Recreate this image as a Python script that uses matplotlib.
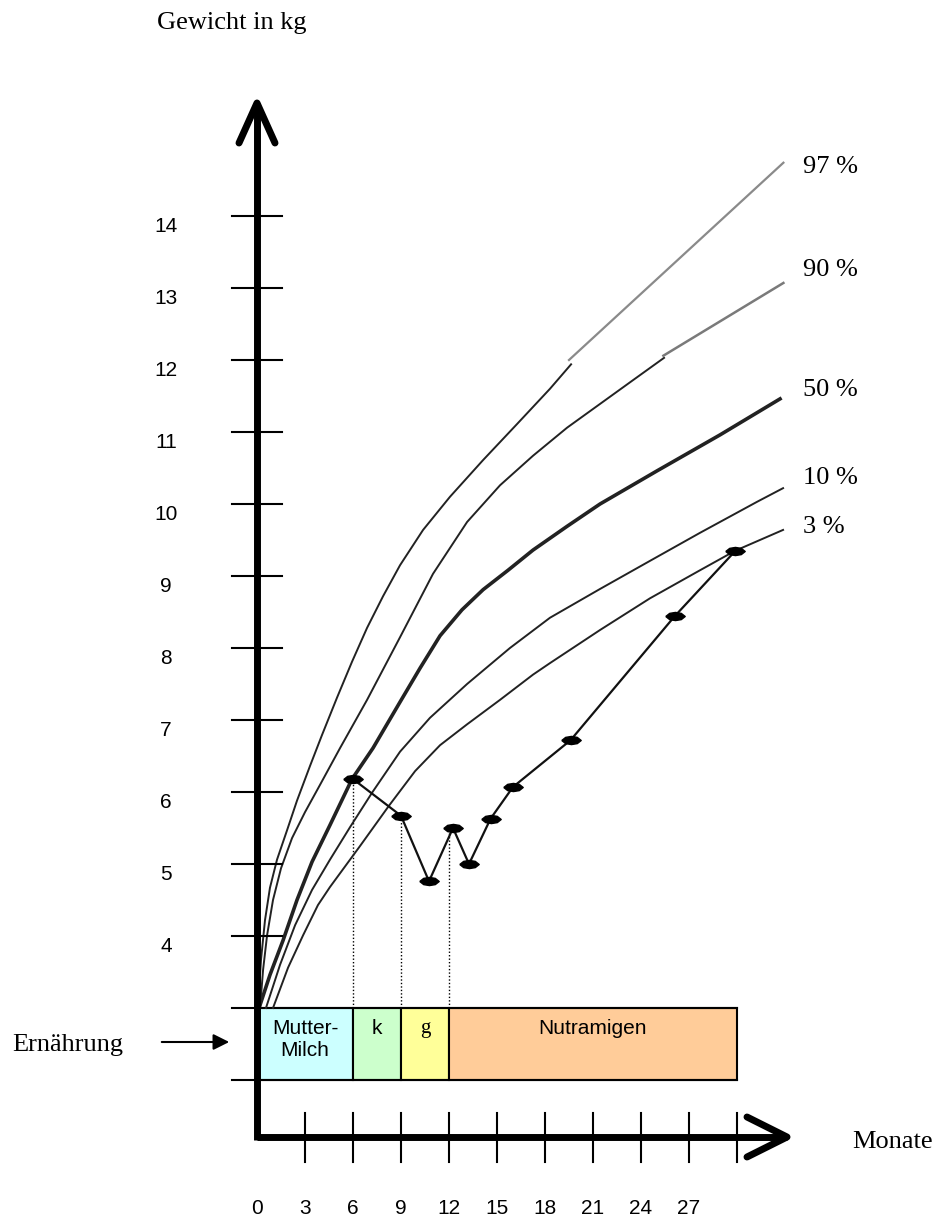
import matplotlib.pyplot as plt
from matplotlib.patches import Rectangle
import numpy as np

p97_m = [0.06, 0.25, 0.5, 0.81, 1.25, 1.88, 2.5, 3.31, 4.06, 5.0, 5.94, 6.88, 7.88, 8.94,
         10.38, 12.06, 14.13, 16.25, 18.31, 19.63]
p97_kg = [3.0, 3.67, 4.22, 4.67, 5.06, 5.47, 5.88, 6.36, 6.79, 7.31, 7.81, 8.28, 8.72, 9.15,
          9.64, 10.10, 10.61, 11.11, 11.60, 11.94]
p90_m = [0.19, 0.38, 0.63, 1.0, 1.5, 2.19, 3.0, 3.94, 5.19, 6.88, 8.94, 11.0, 13.13, 15.19,
         17.25, 19.38, 21.44, 23.5, 25.44]
p90_kg = [3.0, 3.53, 4.01, 4.5, 4.94, 5.36, 5.72, 6.10, 6.61, 7.28, 8.15, 9.03, 9.75, 10.26,
          10.67, 11.06, 11.39, 11.72, 12.03]
p50_m = [0.13, 0.81, 1.63, 2.5, 3.44, 4.56, 5.94, 7.25, 8.94, 10.19, 11.44, 12.81, 14.13, 15.69,
         17.25, 19.38, 21.44, 25.0, 28.94, 32.69]
p50_kg = [3.0, 3.46, 3.94, 4.5, 5.03, 5.54, 6.18, 6.61, 7.25, 7.72, 8.17, 8.53, 8.81, 9.08,
          9.36, 9.69, 10.0, 10.46, 10.96, 11.46]
p10_m = [0.56, 1.44, 2.38, 3.44, 4.56, 5.81, 7.19, 8.94, 10.81, 13.13, 15.81, 18.31, 21.44,
         24.56, 27.69, 31.25, 32.88]
p10_kg = [3.0, 3.6, 4.15, 4.64, 5.06, 5.51, 5.99, 6.56, 7.03, 7.5, 8.0, 8.42, 8.82,
          9.21, 9.6, 10.03, 10.22]
p3_m = [1.0, 1.94, 2.88, 3.81, 4.56, 6.44, 8.25, 9.88, 11.44, 13.13, 15.19, 17.25, 18.31,
        21.44, 24.56, 27.69, 29.88, 32.88]
p3_kg = [3.0, 3.56, 4.01, 4.43, 4.68, 5.25, 5.81, 6.29, 6.65, 6.94, 7.28, 7.63, 7.79,
         8.25, 8.69, 9.08, 9.35, 9.64]

# graue Verlaengerungen von 97 % und 90 %
ext97_m = [19.5, 32.9]
ext97_kg = [12.0, 14.74]
ext90_m = [25.4, 32.9]
ext90_kg = [12.06, 13.07]

# Gewicht des Kindes
weight_m = [6.0, 9.0, 10.75, 12.25, 13.25, 14.6, 16.0, 19.6, 26.1, 29.9]
weight_kg = [6.18, 5.67, 4.76, 5.5, 5.0, 5.63, 6.07, 6.72, 8.44, 9.35]

# gepunktete Hilfslinien
dotted_m = [6, 9, 12]
dotted_top = [6.18, 5.67, 5.45]

# Ernaehrung
feed_labels = ['Mutter-\nMilch', 'k', 'g', 'Nutramigen']
feed_start = [0, 6, 9, 12]
feed_end = [6, 9, 12, 30]
feed_colors = ['#ccffff', '#ccffcc', '#ffff99', '#ffcc99']

pct_labels = ['97 %', '90 %', '50 %', '10 %', '3 %']
pct_label_y = [14.68, 13.25, 11.58, 10.36, 9.68]

y_ticks = list(range(4, 15))
x_ticks = list(range(0, 30, 3))

serif = ['Liberation Serif', 'DejaVu Serif']
sans = ['Liberation Sans', 'DejaVu Sans']

# 1 Monat = 16 px, 1 kg = 72 px
PX_X = 1 / 16
PX_Y = 1 / 72

fig = plt.figure(figsize=(9.36, 12.21), dpi=100)
ax = fig.add_axes([0, 0, 1, 1])
ax.set_xlim(-257 * PX_X, 679 * PX_X)
ax.set_ylim(3 - 213 * PX_Y, 3 + 1008 * PX_Y)
ax.axis('off')

x_axis_y = 3 - 129 * PX_Y
y_top = 3 + 905 * PX_Y
x_end = 530 * PX_X

# Ernaehrungs-Balken
for s, e, c, lab in zip(feed_start, feed_end, feed_colors, feed_labels):
    ax.add_patch(Rectangle((s, 2), e - s, 1, facecolor=c, edgecolor='black', lw=1.5, zorder=2))
    fam = serif if lab == 'g' else sans
    ax.text((s + e) / 2, 3 - 11 * PX_Y, lab, ha='center', va='top', fontsize=15,
            family=fam, linespacing=1.22, zorder=3)
ax.plot([-25 * PX_X, 30], [3, 3], color='black', lw=1.5, zorder=3)
ax.plot([-25 * PX_X, 30], [2, 2], color='black', lw=1.5, zorder=3)

# Perzentilkurven
for m, kg, lw in [(p97_m, p97_kg, 1.4), (p90_m, p90_kg, 1.4), (p50_m, p50_kg, 2.6),
                  (p10_m, p10_kg, 1.4), (p3_m, p3_kg, 1.4)]:
    ax.plot(m, kg, color='#222222', lw=lw, solid_joinstyle='round', zorder=4)
ax.plot(ext97_m, ext97_kg, color='#8a8a8a', lw=1.6, zorder=4)
ax.plot(ext90_m, ext90_kg, color='#7a7a7a', lw=1.8, zorder=4)

for lab, yv in zip(pct_labels, pct_label_y):
    ax.text(546 * PX_X, yv, lab, ha='left', va='center', fontsize=19, family=serif)

# Hilfslinien
for m, top in zip(dotted_m, dotted_top):
    ax.plot([m, m], [3, top], color='black', lw=1.0, ls=(0, (1, 1.5)), zorder=3)

# Gewichtskurve
lens = [(-1, 0), (-0.6, 0.32), (0, 0.42), (0.6, 0.32), (1, 0), (0.6, -0.32), (0, -0.42),
        (-0.6, -0.32), (-1, 0)]
ax.plot(weight_m, weight_kg, color='#111111', lw=1.6, marker=lens, markersize=14,
        markerfacecolor='black', markeredgecolor='black', zorder=5)

# Achsen
ax.plot([0, 0], [x_axis_y - 3 * PX_Y, y_top], color='black', lw=5, solid_capstyle='butt', zorder=6)
ax.plot([-18 * PX_X, 0, 18 * PX_X], [y_top - 40 * PX_Y, y_top, y_top - 40 * PX_Y],
        color='black', lw=5, solid_capstyle='round', solid_joinstyle='round', zorder=6)
ax.plot([0, x_end], [x_axis_y, x_axis_y], color='black', lw=5, solid_capstyle='butt', zorder=6)
ax.plot([x_end - 40 * PX_X, x_end, x_end - 40 * PX_X],
        [x_axis_y + 20 * PX_Y, x_axis_y, x_axis_y - 20 * PX_Y],
        color='black', lw=5, solid_capstyle='round', solid_joinstyle='round', zorder=6)

for v in y_ticks:
    ax.plot([-25 * PX_X, 25 * PX_X], [v, v], color='black', lw=1.5, zorder=6)
    ax.text(-91 * PX_X, v - 10 * PX_Y, str(v), ha='center', va='center', fontsize=15, family=sans)

for m in x_ticks[1:] + [30]:
    ax.plot([m, m], [x_axis_y + 24 * PX_Y, x_axis_y - 25 * PX_Y], color='black', lw=1.5, zorder=6)
for m in x_ticks:
    ax.text(m, 3 - 200 * PX_Y, str(m), ha='center', va='center', fontsize=15, family=sans)

ax.text(-100 * PX_X, 3 + 985 * PX_Y, 'Gewicht in kg', ha='left', va='center', fontsize=19, family=serif)
ax.text(595 * PX_X, x_axis_y - 5 * PX_Y, 'Monate', ha='left', va='center', fontsize=19, family=serif)
ax.text(-245 * PX_X, 3 - 37 * PX_Y, 'Ernährung', ha='left', va='center', fontsize=19, family=serif)
ax.annotate('', xy=(-25 * PX_X, 3 - 34 * PX_Y), xytext=(-98 * PX_X, 3 - 34 * PX_Y),
            arrowprops=dict(arrowstyle='-|>', color='black', lw=1.5, mutation_scale=24))

fig.savefig('out.png', dpi=100)
